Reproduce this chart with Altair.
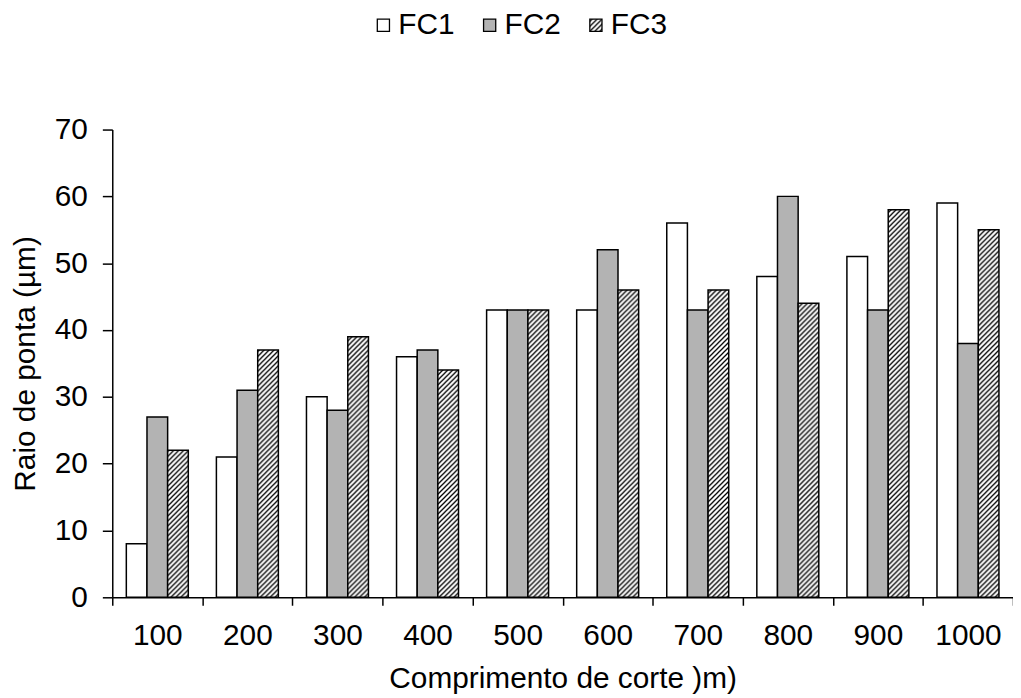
import altair as alt
import pandas as pd
import jinja2

# ---- data ----
comprimentos = ["100", "200", "300", "400", "500", "600", "700", "800", "900", "1000"]
series = ["FC1", "FC2", "FC3"]
fc1 = [8, 21, 30, 36, 43, 43, 56, 48, 51, 59]
fc2 = [27, 31, 28, 37, 43, 52, 43, 60, 43, 38]
fc3 = [22, 37, 39, 34, 43, 46, 46, 44, 58, 55]
y_ticks = [0, 10, 20, 30, 40, 50, 60, 70]

rows = []
for name, vals in zip(series, [fc1, fc2, fc3]):
    for c, v in zip(comprimentos, vals):
        rows.append({"comprimento": c, "serie": name, "valor": v})
df = pd.DataFrame(rows)

FONT = "Liberation Sans"

bars = alt.Chart(df).mark_bar(stroke="black", strokeWidth=1.5).encode(
    x=alt.X(
        "comprimento:N",
        sort=comprimentos,
        scale=alt.Scale(paddingInner=0, paddingOuter=0),
        axis=alt.Axis(
            title="Comprimento de corte )m)",
            labelAngle=0,
            tickBand="extent",
            tickSize=8,
            labelPadding=16,
            titlePadding=13,
        ),
    ),
    xOffset=alt.XOffset(
        "serie:N", sort=series, scale=alt.Scale(paddingInner=0, paddingOuter=0.68)
    ),
    y=alt.Y(
        "valor:Q",
        scale=alt.Scale(domain=[0, 70], nice=False),
        axis=alt.Axis(
            title="Raio de ponta (µm)",
            values=y_ticks,
            grid=False,
            tickSize=10,
            labelPadding=15,
            titlePadding=14,
        ),
    ),
    fill=alt.Fill(
        "serie:N",
        sort=series,
        scale=alt.Scale(domain=series, range=["white", "#b3b3b3", "url(#hatch)"]),
        legend=alt.Legend(
            title=None,
            orient="none",
            direction="horizontal",
            columns=3,
            legendX=258,
            legendY=-120,
            symbolType="square",
            symbolSize=150,
            symbolStrokeColor="black",
            symbolStrokeWidth=1.3,
            symbolOpacity=1,
            labelFontSize=30,
            labelOffset=0,
            columnPadding=20,
            labelFont=FONT,
            labelColor="black",
        ),
    ),
)

chart = bars.properties(
    width=907,
    height=471,
    autosize=alt.AutoSizeParams(type="none"),
    padding={"left": 105, "top": 120, "right": 0, "bottom": 100},
).configure(font=FONT).configure_view(stroke="transparent").configure_axis(
    domainColor="black",
    domainWidth=1.5,
    tickColor="black",
    tickWidth=1.5,
    labelColor="black",
    titleColor="black",
    labelFont=FONT,
    titleFont=FONT,
    labelFontSize=30,
    titleFontSize=30,
    titleFontWeight="normal",
)

PAGE = jinja2.Template("""<!DOCTYPE html>
<html>
<head>
  <style>
    body { overflow: hidden; }
    #{{ output_div }}.vega-embed { width: 100%; display: flex; }
    #{{ output_div }}.vega-embed details,
    #{{ output_div }}.vega-embed details summary { position: relative; }
  </style>
  <script type="text/javascript" src="{{ base_url }}/vega@{{ vega_version }}"></script>
  <script type="text/javascript" src="{{ base_url }}/vega-lite@{{ vegalite_version }}"></script>
  <script type="text/javascript" src="{{ base_url }}/vega-embed@{{ vegaembed_version }}"></script>
</head>
<body>
  <svg width="0" height="0" style="position:absolute"><defs>
    <pattern id="hatch" patternUnits="userSpaceOnUse" width="5" height="5">
      <rect width="5" height="5" fill="white"/>
      <path d="M-1,1 L1,-1 M0,5 L5,0 M4,6 L6,4" stroke="black" stroke-width="1.3"/>
    </pattern>
  </defs></svg>
  <div id="{{ output_div }}"></div>
  <script type="text/javascript">
    (function(vegaEmbed) {
      var spec = {{ spec }};
      var embedOpt = {{ embed_options }};
      var el = document.getElementById("{{ output_div }}");
      vegaEmbed("#{{ output_div }}", spec, embedOpt).catch(function(err) {
        el.innerHTML = "<pre>" + err + "</pre>";
      });
    })(vegaEmbed);
  </script>
</body>
</html>
""")

chart.save("out.html", embed_options={"renderer": "svg", "actions": False}, template=PAGE)
